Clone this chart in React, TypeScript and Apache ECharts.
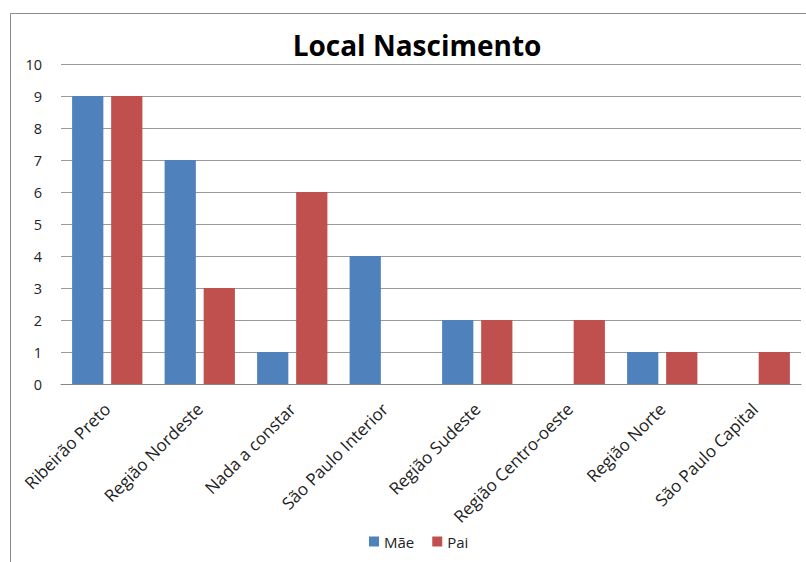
import React, { useEffect, useRef } from "react";
import * as echarts from "echarts";

const categories = [
  "Ribeirão Preto",
  "Região Nordeste",
  "Nada a constar",
  "São Paulo Interior",
  "Região Sudeste",
  "Região Centro-oeste",
  "Região Norte",
  "São Paulo Capital",
];
const maeValues = [9, 7, 1, 4, 2, 0, 1, 0];
const paiValues = [9, 3, 6, 0, 2, 2, 1, 1];
const seriesNames = ["Mãe", "Pai"];
const titleText = "Local Nascimento";

export default function App() {
  const ref = useRef<HTMLDivElement>(null);
  useEffect(() => {
    const chart = echarts.init(ref.current!, null, { renderer: "svg" });
    const font = "'Open Sans', 'Noto Sans', sans-serif";
    chart.setOption({
      animation: false,
      backgroundColor: "#ffffff",
      textStyle: { fontFamily: font },
      title: {
        text: titleText,
        left: 412,
        top: 26,
        textAlign: "center",
        textStyle: { fontSize: 28, fontWeight: "bold", color: "#000", fontFamily: font },
      },
      graphic: [
        {
          type: "rect",
          shape: { x: 10.5, y: 13.5, width: 820, height: 600 },
          style: { fill: "none", stroke: "#8c8c8c", lineWidth: 1 },
          silent: true,
          z: -1,
        },
      ],
      legend: {
        bottom: 8,
        left: 364,
        itemWidth: 10,
        itemHeight: 10,
        itemGap: 18,
        itemTextGap: 4,
        icon: "rect",
        textStyle: { fontSize: 15, color: "#222", fontFamily: font },
        data: seriesNames,
      },
      grid: { left: 61, right: 5, top: 64, bottom: 178, containLabel: false },
      xAxis: {
        type: "category",
        data: categories,
        axisLine: { lineStyle: { color: "#868686" } },
        axisTick: { show: false },
        axisLabel: {
          rotate: 45,
          interval: 0,
          fontSize: 17,
          color: "#222",
          margin: 22,
          fontFamily: font,
        },
      },
      yAxis: {
        type: "value",
        min: 0,
        max: 10,
        interval: 1,
        axisLine: { show: false },
        axisTick: { show: false },
        splitLine: { lineStyle: { color: "#9a9a9a", width: 1 } },
        axisLabel: { fontSize: 14.5, color: "#222", margin: 19, fontFamily: font },
      },
      series: [
        {
          name: seriesNames[0],
          type: "bar",
          data: maeValues,
          itemStyle: { color: "#4F81BD" },
          barGap: "25%",
          barCategoryGap: "24%",
        },
        {
          name: seriesNames[1],
          type: "bar",
          data: paiValues,
          itemStyle: { color: "#C0504D" },
          barGap: "25%",
          barCategoryGap: "24%",
        },
      ],
    });
    return () => chart.dispose();
  }, []);
  return <div ref={ref} style={{ width: 806, height: 562, position: "absolute", left: 0, top: 0 }} />;
}
